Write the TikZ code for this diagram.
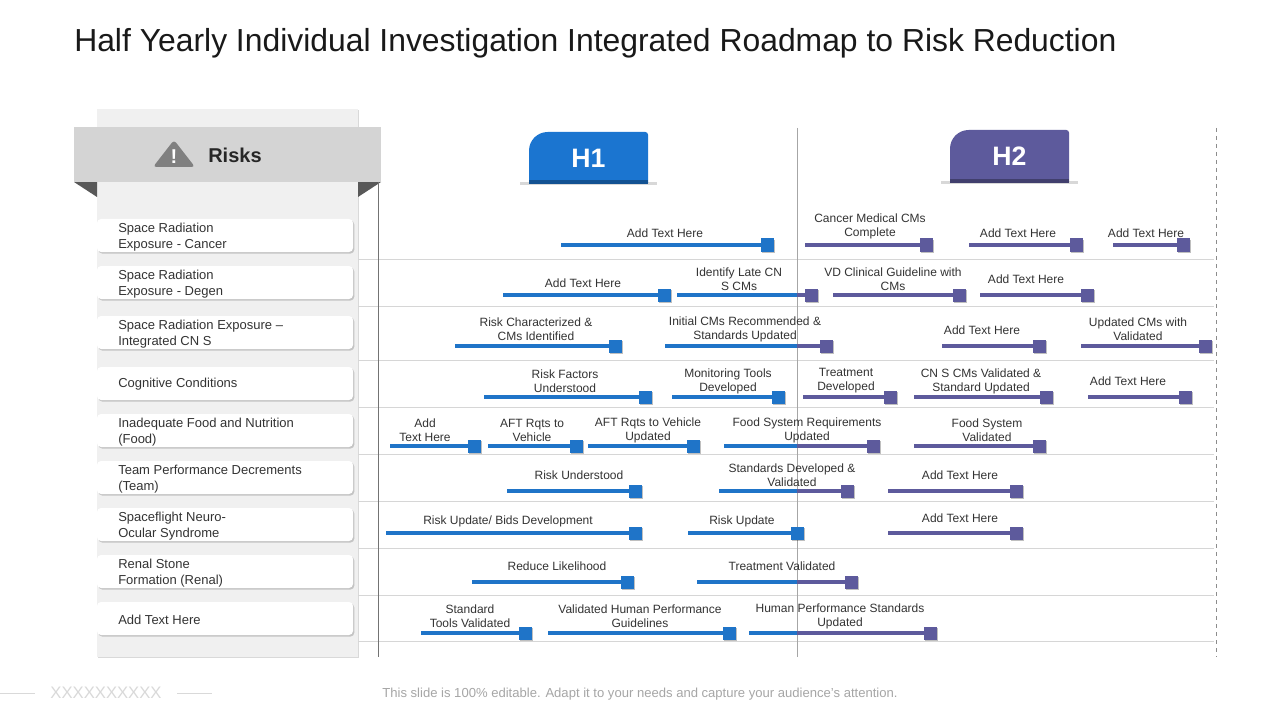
\documentclass[tikz,border=0pt]{standalone}
\usepackage{fontspec}
\setmainfont{Liberation Sans}
\usetikzlibrary{shadows}
\definecolor{hblue}{HTML}{1F74C8}
\definecolor{tabblue}{HTML}{1B75D0}
\definecolor{hpurp}{HTML}{5D5A9C}
\definecolor{panelbg}{HTML}{F0F0F0}
\definecolor{bandcol}{HTML}{D4D4D4}
\definecolor{foldcol}{HTML}{585858}
\definecolor{iconcol}{HTML}{808080}
\definecolor{sepcol}{HTML}{D6D6D6}
\definecolor{txtcol}{HTML}{333333}
\definecolor{foot}{HTML}{A6A6A6}
\tikzset{
  mk/.style={draw=none, inner sep=0pt, minimum width=9.75pt, minimum height=9.75pt,
    drop shadow={shadow xshift=1pt, shadow yshift=-1pt, opacity=0.25, fill=black}},
  barline/.style={line width=3pt},
  lbl/.style={font=\fontsize{9}{10.5}\selectfont, text=txtcol, align=center, inner sep=0pt},
  card/.style={fill=white, rounded corners=3pt, minimum width=192pt, minimum height=24.75pt, inner sep=0pt,
    drop shadow={shadow xshift=1pt, shadow yshift=-1.2pt, opacity=0.18, fill=black}},
  cardtxt/.style={font=\fontsize{9.75}{12}\selectfont, text=txtcol, align=left, anchor=west, inner sep=0pt},
  sep/.style={draw=sepcol, line width=0.75pt},
  tabtxt/.style={font=\bfseries\fontsize{20}{22}\selectfont, text=white, inner sep=0pt}
}
\newcommand\rbar[8]{%
  \node[mk, fill=#5] (#1) at (#3+6.5,#4) {};
  \coordinate (#1s) at (#2,#4);
  \draw[barline, draw=#5] (#1s) -- (#1.west);
  \node[lbl] (#1t) at (#6,#7) {#8};
}
\newcommand\sbar[7]{%
  \node[mk, fill=hpurp] (#1) at (#3+6.5,#4) {};
  \coordinate (#1s) at (#2,#4);
  \coordinate (#1m) at (797,#4);
  \draw[barline, draw=hblue] (#1s) -- (#1m);
  \draw[barline, draw=hpurp] (#1m) -- (#1.west);
  \node[lbl] (#1t) at (#5,#6) {#7};
}
\begin{document}
\begin{tikzpicture}[x=0.75pt,y=-0.75pt]
\useasboundingbox[fill=white] (0,0) rectangle (1280,720);

% title
\node[anchor=west, inner sep=0pt, font=\fontsize{23.9}{26}\selectfont, text=black!90] (title) at (74,43)
  {Half Yearly Individual Investigation Integrated Roadmap to Risk Reduction};

% left panel
\fill[panelbg, drop shadow={shadow xshift=1pt, shadow yshift=-1pt, opacity=0.15, fill=black}] (97,109) rectangle (358,657);
\fill[foldcol] (74,182) -- (97,182) -- (97,197) -- cycle;
\fill[foldcol] (358,182) -- (381,182) -- (358,197) -- cycle;
\node[fill=bandcol, minimum width=230.25pt, minimum height=41.25pt, inner sep=0pt] (band) at (227.5,154.5) {};
\fill[iconcol, rounded corners=2.5pt] (153,167) -- (174,140) -- (195,167) -- cycle;
\node[font=\bfseries\fontsize{15}{16}\selectfont, text=white, inner sep=0pt] (bang) at (174,157) {!};
\node[font=\bfseries\fontsize{15}{16}\selectfont, text=black!85, anchor=west, inner sep=0pt] (risks) at (208,155) {Risks};

% grid lines
\foreach \yy in {259,306,360,407,454,501,548,595,641}
  \draw[sep] (358,\yy) -- (1214,\yy);
\coordinate (v1a) at (378,182); \coordinate (v1b) at (378,657);
\draw[draw=black!55, line width=0.75pt] (v1a) -- (v1b);
\coordinate (v2a) at (797,128); \coordinate (v2b) at (797,657);
\draw[draw=black!35, line width=0.75pt] (v2a) -- (v2b);
\coordinate (v3a) at (1216,128); \coordinate (v3b) at (1216,657);
\draw[draw=black!45, line width=0.75pt, dashed] (v3a) -- (v3b);

% cards
\node[card] (c1) at (225,235.5) {};
\node[cardtxt] (c1t) at (118,237) {Space Radiation\\Exposure - Cancer};
\node[card] (c2) at (225,282.5) {};
\node[cardtxt] (c2t) at (118,284) {Space Radiation\\Exposure - Degen};
\node[card] (c3) at (225,332.5) {};
\node[cardtxt] (c3t) at (118,334) {Space Radiation Exposure –\\Integrated CN S};
\node[card] (c4) at (225,383.5) {};
\node[cardtxt] (c4t) at (118,384.5) {Cognitive Conditions};
\node[card] (c5) at (225,430.5) {};
\node[cardtxt] (c5t) at (118,432) {Inadequate Food and Nutrition\\(Food)};
\node[card] (c6) at (225,477.5) {};
\node[cardtxt] (c6t) at (118,479) {Team Performance Decrements\\(Team)};
\node[card] (c7) at (225,524.5) {};
\node[cardtxt] (c7t) at (118,526) {Spaceflight Neuro-\\Ocular Syndrome};
\node[card] (c8) at (225,571.5) {};
\node[cardtxt] (c8t) at (118,573) {Renal Stone\\Formation (Renal)};
\node[card] (c9) at (225,618.5) {};
\node[cardtxt] (c9t) at (118,619.5) {Add Text Here};

% tabs
\fill[black!30, opacity=0.5] (520,182) rectangle (657,185);
\fill[tabblue] (529,183) [rounded corners=14pt] -- (529,132) [rounded corners=2pt] -- (648,132) [sharp corners] -- (648,183) -- cycle;
\fill[tabblue!70!black] (529,180) rectangle (648,184);
\node[tabtxt] (h1) at (588.5,158) {H1};
\fill[black!30, opacity=0.5] (941,181) rectangle (1078,184);
\fill[hpurp] (950,182) [rounded corners=14pt] -- (950,130) [rounded corners=2pt] -- (1069,130) [sharp corners] -- (1069,182) -- cycle;
\fill[hpurp!70!black] (950,179) rectangle (1069,183);
\node[tabtxt] (h2) at (1009.5,156) {H2};

% row 1
\rbar{r1a}{561}{761}{245}{hblue}{665}{233}{Add Text Here}
\rbar{r1b}{805}{920}{245}{hpurp}{870}{226}{Cancer Medical CMs\\Complete}
\rbar{r1c}{969}{1070}{245}{hpurp}{1018}{233}{Add Text Here}
\rbar{r1d}{1113}{1177}{245}{hpurp}{1146}{233}{Add Text Here}
% row 2
\rbar{r2a}{503}{658}{295}{hblue}{583}{283}{Add Text Here}
\sbar{r2b}{677}{805}{295}{739}{279}{Identify Late CN\\S CMs}
\rbar{r2c}{833}{953}{295}{hpurp}{893}{279}{VD Clinical Guideline with\\CMs}
\rbar{r2d}{980}{1081}{295}{hpurp}{1026}{279}{Add Text Here}
% row 3
\rbar{r3a}{455}{609}{346}{hblue}{536}{329}{Risk Characterized \&\\CMs Identified}
\sbar{r3b}{665}{820}{346}{745}{329}{Initial CMs Recommended \&\\Standards Updated}
\rbar{r3c}{942}{1033}{346}{hpurp}{982}{330}{Add Text Here}
\rbar{r3d}{1081}{1199}{346}{hpurp}{1138}{329}{Updated CMs with\\Validated}
% row 4
\rbar{r4a}{484}{639}{397}{hblue}{565}{381}{Risk Factors\\Understood}
\rbar{r4b}{672}{772}{397}{hblue}{728}{381}{Monitoring Tools\\Developed}
\rbar{r4c}{803}{884}{397}{hpurp}{846}{381}{Treatment\\Developed}
\rbar{r4d}{914}{1040}{397}{hpurp}{981}{381}{CN S CMs Validated \&\\Standard Updated}
\rbar{r4e}{1088}{1179}{397}{hpurp}{1128}{381}{Add Text Here}
% row 5
\rbar{r5a}{390}{468}{446}{hblue}{425}{430}{Add\\Text Here}
\rbar{r5b}{488}{570}{446}{hblue}{532}{430}{AFT Rqts to\\Vehicle}
\rbar{r5c}{588}{687}{446}{hblue}{648}{430}{AFT Rqts to Vehicle\\Updated}
\sbar{r5d}{724}{867}{446}{807}{430}{Food System Requirements\\Updated}
\rbar{r5e}{914}{1033}{446}{hpurp}{987}{430}{Food System\\Validated}
% row 6
\rbar{r6a}{507}{629}{491}{hblue}{579}{475}{Risk Understood}
\sbar{r6b}{719}{841}{491}{792}{475}{Standards Developed \&\\Validated}
\rbar{r6c}{888}{1010}{491}{hpurp}{960}{475}{Add Text Here}
% row 7
\rbar{r7a}{386}{629}{533}{hblue}{508}{521}{Risk Update/ Bids Development}
\rbar{r7b}{688}{791}{533}{hblue}{742}{521}{Risk Update}
\rbar{r7c}{888}{1010}{533}{hpurp}{960}{518}{Add Text Here}
% row 8
\rbar{r8a}{472}{621}{582}{hblue}{557}{566}{Reduce Likelihood}
\sbar{r8b}{697}{845}{582}{782}{566}{Treatment Validated}
% row 9
\rbar{r9a}{421}{519}{633}{hblue}{470}{616}{Standard\\Tools Validated}
\rbar{r9b}{548}{723}{633}{hblue}{640}{616}{Validated Human Performance\\Guidelines}
\sbar{r9c}{749}{924}{633}{840}{616}{Human Performance Standards\\Updated}

% footer
\coordinate (f1a) at (0,693); \coordinate (f1b) at (35,693);
\coordinate (f2a) at (177,693); \coordinate (f2b) at (212,693);
\draw[draw=black!15, line width=0.75pt] (f1a) -- (f1b);
\draw[draw=black!15, line width=0.75pt] (f2a) -- (f2b);
\node[font=\fontsize{12.5}{14}\selectfont, text=black!15, inner sep=0pt] (xx) at (106,693) {XXXXXXXXXX};
\node[font=\fontsize{9.8}{11}\selectfont, text=foot, inner sep=0pt] (foottxt) at (640,694)
  {This slide is 100\% editable. Adapt it to your needs and capture your audience’s attention.};
\end{tikzpicture}
\end{document}
